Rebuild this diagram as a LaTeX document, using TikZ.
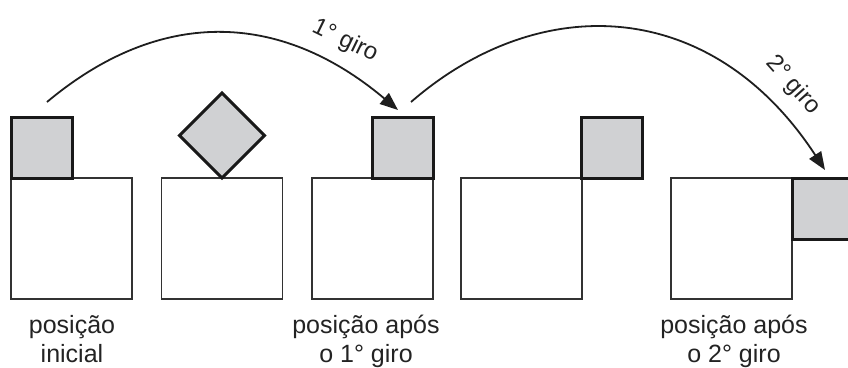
\documentclass[tikz,border=0pt]{standalone}
\usepackage{fontspec}
\setmainfont{Liberation Sans}
\usetikzlibrary{arrows.meta}
\definecolor{sqfill}{RGB}{208,209,211}
\definecolor{bigline}{RGB}{50,50,50}
\definecolor{smline}{RGB}{25,25,25}
\definecolor{arcline}{RGB}{30,30,30}
\definecolor{captext}{RGB}{35,35,35}
\begin{document}
\begin{tikzpicture}[x=1pt,y=-1pt,
  bigsq/.style={draw=bigline,line width=1.9pt,minimum size=121pt,inner sep=0pt,outer sep=0pt},
  smallsq/.style={draw=smline,fill=sqfill,line width=3pt,minimum size=61pt,inner sep=0pt,outer sep=0pt},
  turn/.style={line width=1.8pt,draw=arcline,-{Triangle[length=18pt,width=14pt]}},
  caption/.style={font=\fontsize{25}{29}\selectfont,align=center,inner sep=0pt,anchor=north,text=captext},
  turnlabel/.style={font=\fontsize{24}{28}\selectfont,inner sep=0pt,text=captext}]
\useasboundingbox (0,0) rectangle (848,367);
% big squares
\node[bigsq] (b1) at (71.5,238.5) {};
\node[bigsq] (b2) at (222,238.5) {};
\node[bigsq] (b3) at (372.5,238.5) {};
\node[bigsq] (b4) at (521.5,238.5) {};
\node[bigsq] (b5) at (731.5,238.5) {};
% small squares
\node[smallsq] (s1) at (41.5,147.5) {};
\node[smallsq,rotate=45,minimum size=60pt] (s2) at (222,135.5) {};
\node[smallsq] (s3) at (402.5,147.5) {};
\node[smallsq] (s4) at (611.5,147.5) {};
\node[smallsq] (s5) at (822.5,208.5) {};
% arcs
\coordinate (a1s) at (47,102);
\coordinate (a1e) at (398,110);
\coordinate (a2s) at (411,102);
\coordinate (a2e) at (825,170);
\draw[turn] (a1s) .. controls (158,9) and (278,9) .. (a1e);
\draw[turn] (a2s) .. controls (540,-10) and (712,-3) .. (a2e);
% arc labels
\node[turnlabel,rotate=-26] (l1) at (345,41) {1° giro};
\node[turnlabel,rotate=-48] (l2) at (793,85) {2° giro};
% captions
\node[caption] (c1) at (72,315) {posição\\inicial};
\node[caption] (c3) at (366,315) {posição após\\o 1° giro};
\node[caption] (c5) at (734,315) {posição após\\o 2° giro};
\end{tikzpicture}
\end{document}
